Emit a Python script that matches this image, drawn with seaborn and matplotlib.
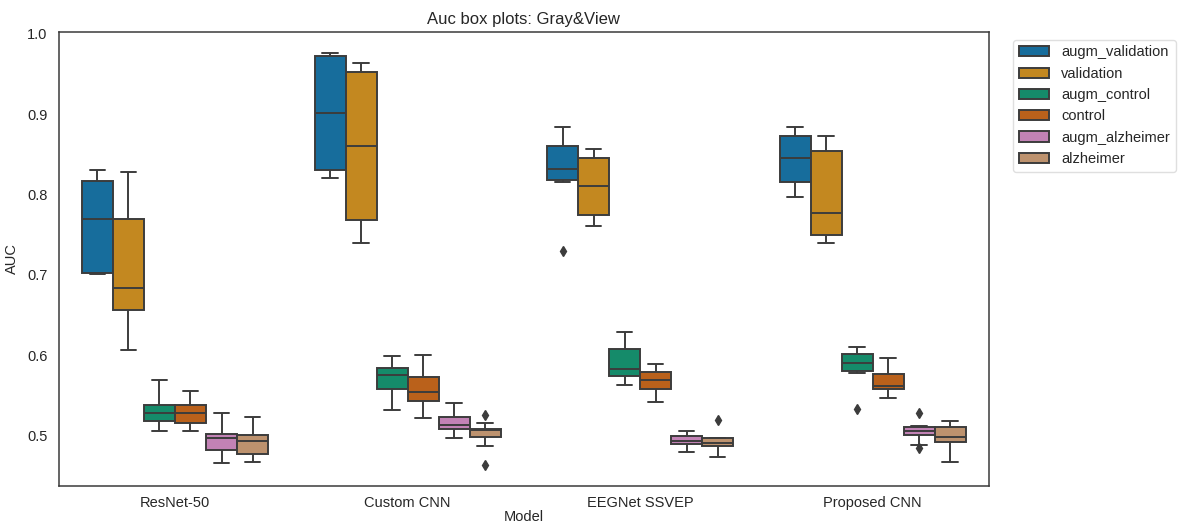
import matplotlib
matplotlib.use("Agg")
import matplotlib.pyplot as plt
import seaborn as sns
import pandas as pd

# Models on the x axis and the six evaluation sets (hue)
models = ["ResNet-50", "Custom CNN", "EEGNet SSVEP", "Proposed CNN"]
conditions = ["augm_validation", "validation", "augm_control",
              "control", "augm_alzheimer", "alzheimer"]

# AUC scores per fold, one list per model (same order as `models`)
augm_validation = [
    [0.701, 0.702, 0.703, 0.735, 0.770, 0.795, 0.817, 0.824, 0.830],
    [0.820, 0.825, 0.830, 0.865, 0.901, 0.940, 0.972, 0.974, 0.976],
    [0.730, 0.815, 0.818, 0.825, 0.832, 0.846, 0.860, 0.872, 0.884],
    [0.797, 0.806, 0.815, 0.830, 0.845, 0.860, 0.873, 0.878, 0.884],
]
validation = [
    [0.607, 0.630, 0.656, 0.670, 0.684, 0.730, 0.769, 0.800, 0.828],
    [0.740, 0.755, 0.768, 0.815, 0.860, 0.905, 0.952, 0.958, 0.963],
    [0.761, 0.768, 0.774, 0.792, 0.810, 0.828, 0.845, 0.851, 0.857],
    [0.740, 0.745, 0.750, 0.764, 0.777, 0.815, 0.854, 0.863, 0.873],
]
augm_control = [
    [0.506, 0.512, 0.518, 0.523, 0.528, 0.533, 0.539, 0.555, 0.570],
    [0.532, 0.545, 0.558, 0.567, 0.576, 0.580, 0.584, 0.592, 0.599],
    [0.563, 0.569, 0.575, 0.579, 0.583, 0.595, 0.608, 0.618, 0.629],
    [0.534, 0.578, 0.581, 0.586, 0.591, 0.596, 0.602, 0.607, 0.611],
]
control = [
    [0.506, 0.511, 0.516, 0.522, 0.528, 0.534, 0.539, 0.548, 0.556],
    [0.522, 0.533, 0.544, 0.549, 0.554, 0.563, 0.573, 0.587, 0.601],
    [0.542, 0.550, 0.558, 0.563, 0.569, 0.574, 0.579, 0.584, 0.589],
    [0.547, 0.553, 0.558, 0.560, 0.5625, 0.570, 0.577, 0.587, 0.597],
]
augm_alzheimer = [
    [0.466, 0.474, 0.482, 0.490, 0.497, 0.500, 0.503, 0.515, 0.528],
    [0.497, 0.503, 0.508, 0.511, 0.514, 0.519, 0.524, 0.532, 0.541],
    [0.480, 0.485, 0.490, 0.492, 0.494, 0.497, 0.500, 0.503, 0.506],
    [0.4845, 0.4885, 0.501, 0.503, 0.506, 0.508, 0.511, 0.512, 0.529],
]
alzheimer = [
    [0.467, 0.472, 0.478, 0.486, 0.494, 0.498, 0.501, 0.512, 0.523],
    [0.464, 0.487, 0.499, 0.503, 0.507, 0.508, 0.509, 0.516, 0.5265],
    [0.474, 0.480, 0.487, 0.489, 0.491, 0.494, 0.497, 0.498, 0.520],
    [0.467, 0.480, 0.492, 0.496, 0.499, 0.505, 0.511, 0.515, 0.519],
]

scores = {
    "augm_validation": augm_validation,
    "validation": validation,
    "augm_control": augm_control,
    "control": control,
    "augm_alzheimer": augm_alzheimer,
    "alzheimer": alzheimer,
}

rows = []
for cond in conditions:
    for model, vals in zip(models, scores[cond]):
        for v in vals:
            rows.append({"Model": model, "Condition": cond, "AUC": v})
df = pd.DataFrame(rows)

sns.set_theme(style="white")
plt.rcParams["font.family"] = ["Liberation Sans", "DejaVu Sans"]

fig = plt.figure(figsize=(11.84, 5.24), dpi=100)
ax = fig.add_axes([58.7 / 1184, 1 - 485.5 / 524, (989 - 58.7) / 1184, (485.5 - 32.3) / 524])

line_gray = "#3c3c3c"
sns.boxplot(
    data=df, x="Model", y="AUC", hue="Condition",
    order=models, hue_order=conditions,
    palette="colorblind", saturation=0.75, width=0.8,
    linecolor=line_gray, linewidth=1.4,
    flierprops=dict(marker="d", markerfacecolor=line_gray,
                    markeredgecolor=line_gray, markersize=5),
    ax=ax,
)

for spine in ax.spines.values():
    spine.set_color("#3a3a3a")
    spine.set_linewidth(1.1)

ax.set_title("Auc box plots: Gray&View", fontsize=12, color="#262626", pad=6)
ax.set_xlabel("Model", fontsize=10.5, color="#262626", labelpad=0)
ax.set_ylabel("AUC", fontsize=10.5, color="#262626", labelpad=6)
ax.tick_params(axis="both", labelsize=10.5, colors="#262626")
ax.tick_params(axis="x", pad=1.5)
ax.tick_params(axis="y", pad=2)
ax.set_yticks([0.5, 0.6, 0.7, 0.8, 0.9, 1.0])

leg = ax.legend(loc="upper left", bbox_to_anchor=(1.018, 1.0), fontsize=10.5,
                frameon=True, handlelength=2.1, labelspacing=0.5)
leg.get_frame().set_edgecolor("#d8d8d8")

fig.savefig("out.png", dpi=100)
